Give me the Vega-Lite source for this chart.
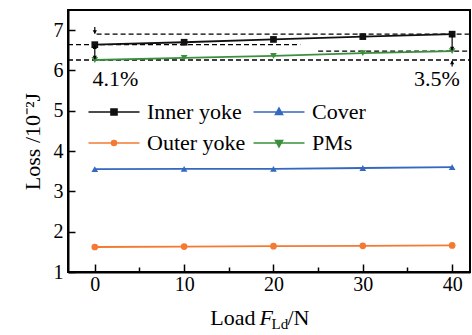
{
  "$schema": "https://vega.github.io/schema/vega-lite/v6.json",
  "width": 402,
  "height": 262,
  "autosize": "none",
  "padding": {"left": 68, "top": 10, "right": 2, "bottom": 63},
  "background": "white",
  "config": {
    "view": {"stroke": "#000", "strokeWidth": 2},
    "font": "Liberation Serif",
    "text": {"font": "Liberation Serif"}
  },
  "datasets": {
    "loss": [
      {"load": 0, "loss": 6.64, "series": "Inner yoke"},
      {"load": 10, "loss": 6.70, "series": "Inner yoke"},
      {"load": 20, "loss": 6.77, "series": "Inner yoke"},
      {"load": 30, "loss": 6.84, "series": "Inner yoke"},
      {"load": 40, "loss": 6.90, "series": "Inner yoke"},
      {"load": 0, "loss": 3.55, "series": "Cover"},
      {"load": 10, "loss": 3.56, "series": "Cover"},
      {"load": 20, "loss": 3.56, "series": "Cover"},
      {"load": 30, "loss": 3.58, "series": "Cover"},
      {"load": 40, "loss": 3.60, "series": "Cover"},
      {"load": 0, "loss": 1.62, "series": "Outer yoke"},
      {"load": 10, "loss": 1.63, "series": "Outer yoke"},
      {"load": 20, "loss": 1.64, "series": "Outer yoke"},
      {"load": 30, "loss": 1.65, "series": "Outer yoke"},
      {"load": 40, "loss": 1.66, "series": "Outer yoke"},
      {"load": 0, "loss": 6.26, "series": "PMs"},
      {"load": 10, "loss": 6.31, "series": "PMs"},
      {"load": 20, "loss": 6.36, "series": "PMs"},
      {"load": 30, "loss": 6.43, "series": "PMs"},
      {"load": 40, "loss": 6.48, "series": "PMs"}
    ],
    "dash": [
      {"load": -3, "load2": 23, "loss": 6.64},
      {"load": 0.2, "load2": 42, "loss": 6.9},
      {"load": 25, "load2": 42, "loss": 6.48},
      {"load": -3, "load2": 42, "loss": 6.26}
    ],
    "arrowline": [
      {"load": 0, "loss": 7.08, "loss2": 6.92},
      {"load": 0, "loss": 6.62, "loss2": 6.28},
      {"load": 40, "loss": 6.88, "loss2": 6.5},
      {"load": 40, "loss": 6.1, "loss2": 6.24}
    ],
    "arrowhead": [
      {"load": 0, "loss": 6.95, "dir": "down"},
      {"load": 0, "loss": 6.58, "dir": "up"},
      {"load": 0, "loss": 6.32, "dir": "down"},
      {"load": 40, "loss": 6.54, "dir": "down"},
      {"load": 40, "loss": 6.2, "dir": "up"}
    ],
    "pct": [
      {"load": 2.3, "loss": 5.61, "label": "4.1%"},
      {"load": 38.3, "loss": 5.61, "label": "3.5%"}
    ]
  },
  "layer": [
    {
      "data": {"name": "dash"},
      "mark": {"type": "rule", "strokeDash": [5, 3], "strokeWidth": 1.3, "color": "#000"},
      "encoding": {
        "x": {
          "field": "load", "type": "quantitative",
          "scale": {"domain": [-3, 42], "nice": false, "zero": false},
          "axis": {
            "title": null,
            "values": [0, 5, 10, 15, 20, 25, 30, 35, 40],
            "labelExpr": "datum.value % 10 === 0 ? datum.label : ''",
            "labelFont": "Liberation Serif", "labelFontSize": 20, "labelColor": "#000",
            "labelPadding": 10,
            "grid": false,
            "domainColor": "#000", "domainWidth": 2,
            "tickColor": "#000", "tickWidth": 1.5,
            "tickSize": {"condition": {"test": "datum.value % 10 === 0", "value": -8}, "value": -5}
          }
        },
        "x2": {"field": "load2"},
        "y": {
          "field": "loss", "type": "quantitative",
          "scale": {"domain": [1, 7.5], "nice": false, "zero": false},
          "axis": {
            "title": "Loss /10⁻²J",
            "titleFont": "Liberation Serif", "titleFontSize": 22, "titleFontWeight": "normal", "titleColor": "#000",
            "titlePadding": 9,
            "values": [1, 1.5, 2, 2.5, 3, 3.5, 4, 4.5, 5, 5.5, 6, 6.5, 7],
            "labelExpr": "datum.value % 1 === 0 ? datum.label : ''",
            "labelFont": "Liberation Serif", "labelFontSize": 20, "labelColor": "#000",
            "labelPadding": 12,
            "grid": false,
            "domainColor": "#000", "domainWidth": 2,
            "tickColor": "#000", "tickWidth": 1.5,
            "tickSize": {"condition": {"test": "datum.value % 1 === 0", "value": -7}, "value": -4}
          }
        }
      }
    },
    {
      "data": {"name": "loss"},
      "mark": {"type": "line", "strokeWidth": 1.8},
      "encoding": {
        "x": {"field": "load", "type": "quantitative"},
        "y": {"field": "loss", "type": "quantitative"},
        "color": {
          "field": "series", "type": "nominal",
          "scale": {"domain": ["Inner yoke", "Cover", "Outer yoke", "PMs"], "range": ["#111111", "#3569c0", "#f47a34", "#3b8f3e"]},
          "legend": {
            "title": null, "orient": "none", "legendX": 35, "legendY": 91,
            "direction": "horizontal", "columns": 2,
            "labelFont": "Liberation Serif", "labelFontSize": 22, "labelColor": "#000",
            "labelOffset": 22, "columnPadding": 4, "rowPadding": 9,
            "symbolSize": 400,
            "padding": 0,
            "encode": {
              "symbols": {
                "update": {
                  "shape": {"signal": "datum.value === 'Inner yoke' ? 'M-2.55,0H2.55M-0.3,-0.3H0.3V0.3H-0.3Z' : datum.value === 'Cover' ? 'M-2.55,0H2.55M0,-0.38L0.35,0.25H-0.35Z' : datum.value === 'Outer yoke' ? 'M-2.55,0H2.55M-0.25,0A0.25,0.25,0,1,0,0.25,0A0.25,0.25,0,1,0,-0.25,0Z' : 'M-2.55,0H2.55M0,0.38L0.35,-0.25H-0.35Z'"},
                  "size": {"value": 400},
                  "strokeWidth": {"value": 1.6},
                  "opacity": {"value": 1},
                  "fill": {"signal": "scale('color', datum.value)"},
                  "stroke": {"signal": "scale('color', datum.value)"}
                }
              }
            }
          }
        }
      }
    },
    {
      "data": {"name": "loss"},
      "mark": {"type": "point", "filled": true, "opacity": 1, "size": 45},
      "encoding": {
        "x": {"field": "load", "type": "quantitative"},
        "y": {"field": "loss", "type": "quantitative"},
        "color": {"field": "series", "type": "nominal"},
        "shape": {
          "field": "series", "type": "nominal",
          "scale": {"domain": ["Inner yoke", "Cover", "Outer yoke", "PMs"], "range": ["square", "triangle-up", "circle", "triangle-down"]},
          "legend": null
        }
      }
    },
    {
      "data": {"name": "arrowline"},
      "mark": {"type": "rule", "strokeWidth": 1.2, "color": "#000"},
      "encoding": {
        "x": {"field": "load", "type": "quantitative"},
        "y": {"field": "loss", "type": "quantitative"},
        "y2": {"field": "loss2"}
      }
    },
    {
      "data": {"name": "arrowhead"},
      "mark": {"type": "point", "filled": true, "opacity": 1, "size": 18, "color": "#000"},
      "encoding": {
        "x": {"field": "load", "type": "quantitative"},
        "y": {"field": "loss", "type": "quantitative"},
        "shape": {
          "field": "dir", "type": "nominal",
          "scale": {"domain": ["up", "down"], "range": ["triangle-up", "triangle-down"]},
          "legend": null
        }
      }
    },
    {
      "data": {"name": "pct"},
      "mark": {"type": "text", "fontSize": 22, "color": "#000", "baseline": "alphabetic", "align": "center"},
      "encoding": {
        "x": {"field": "load", "type": "quantitative"},
        "y": {"field": "loss", "type": "quantitative"},
        "text": {"field": "label"}
      }
    },
    {
      "data": {"values": [{"t": "Load"}]},
      "mark": {"type": "text", "fontSize": 22, "color": "#000", "baseline": "alphabetic", "align": "right", "dx": -18, "dy": 53},
      "encoding": {
        "x": {"datum": 20, "type": "quantitative"},
        "y": {"datum": 1, "type": "quantitative"},
        "text": {"field": "t"}
      }
    },
    {
      "data": {"values": [{"t": "F"}]},
      "mark": {"type": "text", "fontSize": 22, "fontStyle": "italic", "color": "#000", "baseline": "alphabetic", "align": "left", "dx": -14, "dy": 53},
      "encoding": {
        "x": {"datum": 20, "type": "quantitative"},
        "y": {"datum": 1, "type": "quantitative"},
        "text": {"field": "t"}
      }
    },
    {
      "data": {"values": [{"t": "Ld"}]},
      "mark": {"type": "text", "fontSize": 15, "color": "#000", "baseline": "alphabetic", "align": "left", "dx": -2, "dy": 57},
      "encoding": {
        "x": {"datum": 20, "type": "quantitative"},
        "y": {"datum": 1, "type": "quantitative"},
        "text": {"field": "t"}
      }
    },
    {
      "data": {"values": [{"t": "/N"}]},
      "mark": {"type": "text", "fontSize": 22, "color": "#000", "baseline": "alphabetic", "align": "left", "dx": 14, "dy": 53},
      "encoding": {
        "x": {"datum": 20, "type": "quantitative"},
        "y": {"datum": 1, "type": "quantitative"},
        "text": {"field": "t"}
      }
    }
  ],
  "resolve": {"scale": {"shape": "independent"}}
}
